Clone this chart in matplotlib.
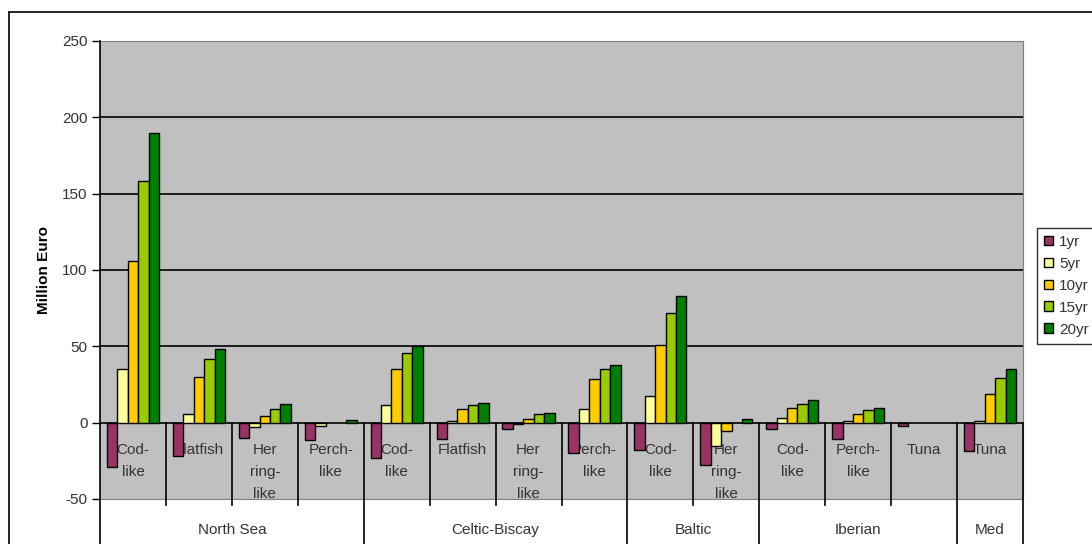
import matplotlib.pyplot as plt
from matplotlib.lines import Line2D
from matplotlib.patches import Patch

plt.rcParams['font.family'] = ['Liberation Sans', 'DejaVu Sans']
plt.rcParams['axes.unicode_minus'] = False

# categories (sub-level) and regions (top level)
categories = ["Cod-\nlike", "Flatfish", "Her\nring-\nlike", "Perch-\nlike",
              "Cod-\nlike", "Flatfish", "Her\nring-\nlike", "Perch-\nlike",
              "Cod-\nlike", "Her\nring-\nlike",
              "Cod-\nlike", "Perch-\nlike", "Tuna",
              "Tuna"]
regions = ["North Sea", "Celtic-Biscay", "Baltic", "Iberian", "Med"]
region_sizes = [4, 4, 2, 3, 1]

series_names = ["1yr", "5yr", "10yr", "15yr", "20yr"]
yr1 = [-29, -22, -10, -11.5, -23, -10.5, -4.4, -20, -18, -28, -4, -10.5, -2, -18.5]
yr5 = [35, 6, -3, -2, 11.6, 1.3, -1, 8.7, 17.5, -15, 3, 1, 0, 1]
yr10 = [106, 30, 4.5, 0, 35, 9, 2.5, 28.5, 51, -5.5, 9.3, 6, 0, 19]
yr15 = [158, 42, 9, 0, 45.5, 11.6, 5.4, 35, 72, 0, 12.3, 8.3, 0, 29.5]
yr20 = [190, 48, 12, 1.5, 50, 13, 6.5, 38, 83, 2.2, 14.6, 9.6, 0, 35]
series = [yr1, yr5, yr10, yr15, yr20]
colors = ["#993366", "#FFFF99", "#FFCC00", "#99CC00", "#008000"]

W, H = 1092, 544
fig = plt.figure(figsize=(W / 100, H / 100), dpi=100)
ax = fig.add_axes([100 / W, 1 - 499 / H, (1023 - 100) / W, (499 - 41) / H])
ax.set_facecolor("#C0C0C0")

n = len(categories)
bw = 0.158
for j, (vals, c) in enumerate(zip(series, colors)):
    xs = [i + 0.5 + (j - 2) * bw for i in range(n)]
    lws = [1 if v != 0 else 0 for v in vals]
    ax.bar(xs, vals, width=bw, color=c, edgecolor="black", linewidth=lws, zorder=3)

ax.set_xlim(0, n)
ax.set_ylim(-50, 250)
ax.set_yticks(range(-50, 251, 50))
for v in range(0, 201, 50):
    ax.axhline(v, color="black", lw=1.2, zorder=2)

ax.set_xticks([])
ax.tick_params(axis="y", direction="out", length=6, width=1, labelsize=11,
               labelcolor="#333333", pad=3)
for s in ["top", "right", "bottom"]:
    ax.spines[s].set_color("#808080")
ax.spines["left"].set_visible(False)

ax.set_ylabel("Million Euro", fontsize=11, fontweight="bold", labelpad=8)

# left axis line running down through label area
fig.add_artist(Line2D([100 / W, 100 / W], [0, 1 - 41 / H], color="black", lw=1.2))

# sub-category separators
bounds = [0]
for s in region_sizes:
    bounds.append(bounds[-1] + s)
for i in range(1, n + 1):
    if i in bounds:
        ax.plot([i, i], [0, -90], color="black", lw=1.2, clip_on=False, zorder=4)
    else:
        ax.plot([i, i], [0, -54], color="black", lw=1.2, clip_on=False, zorder=4)

# category labels
for i, lab in enumerate(categories):
    ax.text(i + 0.5, -13.5, lab, ha="center", va="top", fontsize=11,
            color="#333333", linespacing=1.73, zorder=2.5)

# region labels
for k, r in enumerate(regions):
    ax.text((bounds[k] + bounds[k + 1]) / 2, -70.5, r, ha="center", va="center",
            fontsize=11, color="#333333", clip_on=False)

# outer chart border (cut by image edges)
fig.add_artist(Line2D([9 / W, 1], [1 - 12 / H, 1 - 12 / H], color="black", lw=1.2))
fig.add_artist(Line2D([9 / W, 9 / W], [0, 1 - 12 / H], color="black", lw=1.2))

handles = [Patch(facecolor=c, edgecolor="black", lw=1) for c in colors]
leg = fig.legend(handles, series_names, loc="upper left",
                 bbox_to_anchor=(1037 / W, 1 - 228 / H), fontsize=11,
                 frameon=True, fancybox=False, handlelength=0.6, handleheight=0.6,
                 handletextpad=0.4, labelspacing=0.52, borderpad=0.45,
                 borderaxespad=0)
leg.get_frame().set_edgecolor("black")
leg.get_frame().set_linewidth(1)
for t in leg.get_texts():
    t.set_color("#333333")

fig.savefig("out.png", dpi=100)
